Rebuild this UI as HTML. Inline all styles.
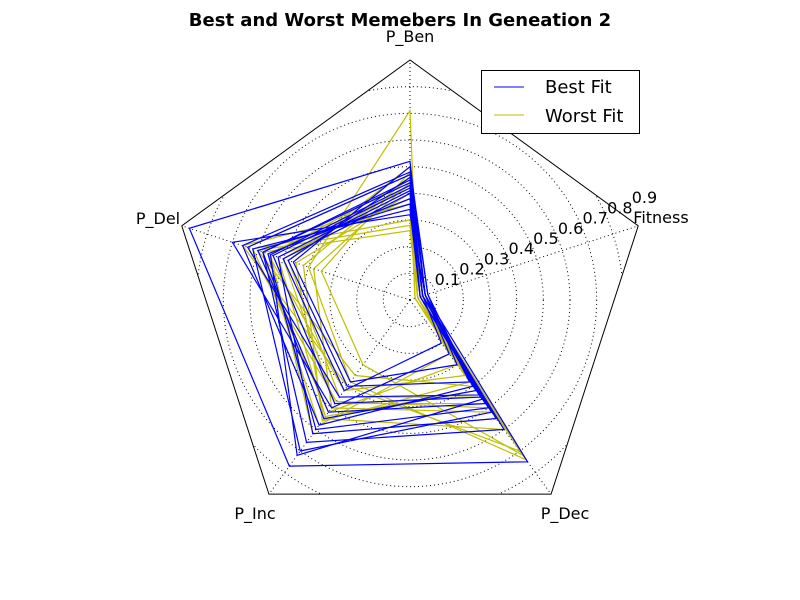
<!DOCTYPE html>
<html><head><meta charset="utf-8"><style>
html,body{margin:0;padding:0;background:#fff;}
svg{display:block;font-family:"DejaVu Sans","Liberation Sans",sans-serif;}
</style></head><body>
<svg id="chart" width="800" height="600" viewBox="0 0 800 600">
<defs><clipPath id="pclip"><polygon id="clipPoly" points=""/></clipPath></defs>
<rect width="800" height="600" fill="#fff"/>
<g id="grid" clip-path="url(#pclip)"></g>
<g id="frame"></g>
<g id="series"></g>
<g id="labels"></g>
<text x="400" y="26" text-anchor="middle" font-size="18" font-weight="bold">Best and Worst Memebers In Geneation 2</text>
<g>
<rect x="481.5" y="70.5" width="158" height="63" fill="#fff" stroke="#000"/>
<line x1="494" y1="87" x2="524" y2="87" stroke="#0000ff"/>
<text x="545" y="93" font-size="18">Best Fit</text>
<line x1="494" y1="115" x2="524" y2="115" stroke="#bfbf00"/>
<text x="545" y="122" font-size="18">Worst Fit</text>
</g>
</svg>
<script>
const axesNames=["P_Ben","P_Del","P_Inc","P_Dec","Fitness"];
const radialTicks=[0.1,0.2,0.3,0.4,0.5,0.6,0.7,0.8,0.9];
const bestBen=[.52,.40,.48,.34,.46,.45,.32,.43,.50,.41,.47,.38,.36,.44,.42];
const bestDel=[.87,.50,.66,.62,.48,.58,.70,.55,.46,.52,.64,.56,.60,.58,.54];
const bestInc=[.77,.42,.58,.70,.40,.66,.50,.72,.38,.62,.45,.60,.52,.55,.48];
const bestDec=[.75,.20,.40,.52,.38,.60,.25,.46,.30,.55,.44,.50,.48,.42,.45];
const bestFit=[.06,.05,.07,.04,.06,.05,.06,.04,.07,.05,.06,.05,.04,.06,.05];
const worstBen=[.71,.30,.48,.26,.45,.36,.43,.50,.40,.28,.46,.44,.42,.38,.47];
const worstDel=[.40,.62,.35,.58,.55,.66,.50,.48,.45,.60,.42,.38,.56,.52,.64];
const worstInc=[.38,.52,.30,.58,.62,.40,.48,.45,.55,.35,.56,.50,.42,.54,.47];
const worstDec=[.74,.30,.72,.25,.55,.70,.48,.45,.60,.40,.38,.52,.35,.42,.50];
const worstFit=[.03,.04,.05,.03,.04,.05,.02,.03,.04,.05,.03,.04,.02,.03,.04];

const NS="http://www.w3.org/2000/svg";
const cx=410,cy=300,R=240,rmax=0.9;
const angles=[90,162,234,306,18].map(a=>a*Math.PI/180);
function rScale(v){return v/rmax*R;}
function pt(i,v){const r=rScale(v);return [cx+r*Math.cos(angles[i]),cy-r*Math.sin(angles[i])];}
function mk(tag,attrs,parent){const e=document.createElementNS(NS,tag);for(const k in attrs)e.setAttribute(k,attrs[k]);parent.appendChild(e);return e;}
const grid=document.getElementById('grid'),frame=document.getElementById('frame'),series=document.getElementById('series'),labels=document.getElementById('labels');
const outerPts=angles.map((a,i)=>pt(i,rmax).join(',')).join(' ');
document.getElementById('clipPoly').setAttribute('points',outerPts);
radialTicks.forEach(t=>{
  const c=mk('circle',{cx:cx,cy:cy,r:rScale(t),fill:'none',stroke:'#000','stroke-width':1,'stroke-dasharray':'1,3'},grid);
  
  
  const a=22.5*Math.PI/180,r=rScale(t);
  const tx=mk('text',{x:cx+r*Math.cos(a),y:cy-r*Math.sin(a)-5,'font-size':16},labels);
  tx.textContent=String(t);
  
  
});
angles.forEach((a,i)=>{
  const p=pt(i,rmax);
  const l=mk('line',{x1:cx,y1:cy,x2:p[0],y2:p[1],stroke:'#000','stroke-dasharray':'1,3'},grid);
  
  
});
const outer=mk('polygon',{points:outerPts,fill:'none',stroke:'#000','stroke-width':1},frame);


const labPos=[[410,42],[158,224],[255,519],[565,519],[661,223]];
axesNames.forEach((n,i)=>{
  const t=mk('text',{x:labPos[i][0],y:labPos[i][1],'text-anchor':'middle','font-size':16},labels);
  t.textContent=n;
  
  
});
function drawSet(ben,del,inc,dec,fit,color,name){
  for(let k=0;k<ben.length;k++){
    const vals=[ben[k],del[k],inc[k],dec[k],fit[k]];
    const pts=vals.map((v,i)=>pt(i,v).join(',')).join(' ');
    const p=mk('polygon',{points:pts,fill:'none',stroke:color,'stroke-width':1.2},series);
    
    
  }
}
drawSet(worstBen,worstDel,worstInc,worstDec,worstFit,'#bfbf00','worst-fit-line');
drawSet(bestBen,bestDel,bestInc,bestDec,bestFit,'#0000ff','best-fit-line');
</script>
</body></html>
